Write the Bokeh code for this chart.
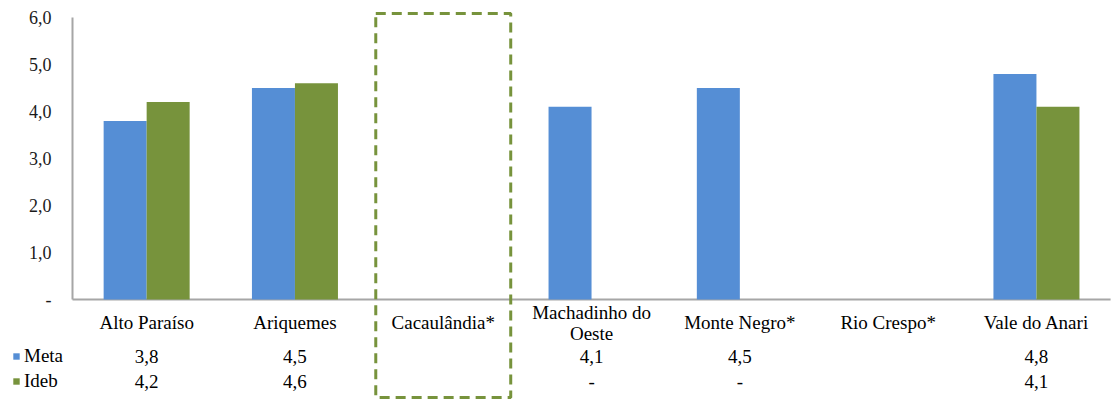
from bokeh.plotting import figure
from bokeh.models import (ColumnDataSource, Range1d, LinearAxis,
                          FixedTicker, Legend, LegendItem)
from bokeh.core.properties import value
from bokeh.embed import file_html
from bokeh.resources import INLINE

# Municípios, metas projetadas e Ideb observado (None = sem dado, 0 = "-")
municipios = ["Alto Paraíso", "Ariquemes", "Cacaulândia*", "Machadinho do Oeste",
              "Monte Negro*", "Rio Crespo*", "Vale do Anari"]
rotulos = ["Alto Paraíso", "Ariquemes", "Cacaulândia*", "Machadinho do\nOeste",
           "Monte Negro*", "Rio Crespo*", "Vale do Anari"]
meta = [3.8, 4.5, None, 4.1, 4.5, None, 4.8]
ideb = [4.2, 4.6, None, 0.0, 0.0, None, 4.1]
destaque = "Cacaulândia*"
y_ticks = [0, 1, 2, 3, 4, 5, 6]

AZUL = "#558ED5"
VERDE = "#77933C"
CINZA = "#A6A6A6"
FONTE = "Liberation Serif"
LARGURA_BARRA = 0.29


def fmt(v):
    """Formato contábil: vazio para sem dado, '-' para zero, vírgula decimal."""
    if v is None:
        return ""
    if v == 0:
        return "-"
    return f"{v:.1f}".replace(".", ",")


def num(v):
    return float("nan") if v is None else v


pos = list(range(len(municipios)))
src = ColumnDataSource(dict(
    pos=pos,
    pos_meta=[i - LARGURA_BARRA / 2 for i in pos],
    pos_ideb=[i + LARGURA_BARRA / 2 for i in pos],
    rotulo=rotulos,
    meta=[num(v) for v in meta],
    ideb=[num(v) for v in ideb],
    meta_txt=[fmt(v) for v in meta],
    ideb_txt=[fmt(v) for v in ideb],
))

# Cada município ocupa uma faixa de largura 1 centrada no seu índice;
# à esquerda sobra espaço para os rótulos do eixo e a legenda da tabela.
p = figure(width=1113, height=399,
           x_range=Range1d(-0.9855, 6.5196),
           y_range=Range1d(-2.128, 6.362),
           output_backend="svg", toolbar_location=None,
           x_axis_location=None, y_axis_location=None,
           min_border=0, outline_line_color=None,
           background_fill_color="white")
p.xgrid.visible = False
p.ygrid.visible = False

# Eixo vertical de 0 a 6 na borda esquerda da área das barras
yaxis = LinearAxis(ticker=FixedTicker(ticks=y_ticks), bounds=(0, 6),
                   fixed_location=-0.5,
                   major_label_overrides={t: fmt(float(t)) for t in y_ticks},
                   axis_line_color=CINZA, axis_line_width=2,
                   major_tick_line_color=None, minor_tick_line_color=None,
                   major_tick_in=0, major_tick_out=0,
                   major_label_standoff=21,
                   major_label_text_font=FONTE,
                   major_label_text_font_size="18px",
                   major_label_text_color="#1a1a1a")
p.add_layout(yaxis, "left")

# Linha de base das categorias
p.segment(x0=[-0.5], y0=[0], x1=[len(municipios) - 0.5], y1=[0],
          line_color=CINZA, line_width=2)

# Barras agrupadas
r_meta = p.vbar(x="pos_meta", top="meta", width=LARGURA_BARRA, source=src,
                fill_color=AZUL, line_color=None)
r_ideb = p.vbar(x="pos_ideb", top="ideb", width=LARGURA_BARRA, source=src,
                fill_color=VERDE, line_color=None)

# Destaque tracejado do município sem dados
p.rect(x=[municipios.index(destaque)], y=[2.0], width=0.91, height=8.17,
       fill_color=None, line_color=VERDE, line_width=3, line_dash="10 6")

# Tabela de dados sob o gráfico
texto = dict(text_align="center", text_baseline="middle",
             text_font=value(FONTE), text_font_size="19px", text_color="#000000")
p.text(x="pos", y=-0.49, text="rotulo", source=src, text_line_height=1.0, **texto)
p.text(x="pos", y=-1.213, text="meta_txt", source=src, **texto)
p.text(x="pos", y=-1.745, text="ideb_txt", source=src, **texto)

legend = Legend(items=[LegendItem(label="Meta", renderers=[r_meta]),
                       LegendItem(label="Ideb", renderers=[r_ideb])],
                location=(12, 7), orientation="vertical",
                glyph_width=8, glyph_height=8, label_standoff=4,
                spacing=3, padding=0, margin=0, label_height=22,
                border_line_color=None, background_fill_alpha=0,
                label_text_font=FONTE, label_text_font_size="19px",
                label_text_color="#000000")
p.add_layout(legend)

open("out.html", "w").write(file_html(p, INLINE))
